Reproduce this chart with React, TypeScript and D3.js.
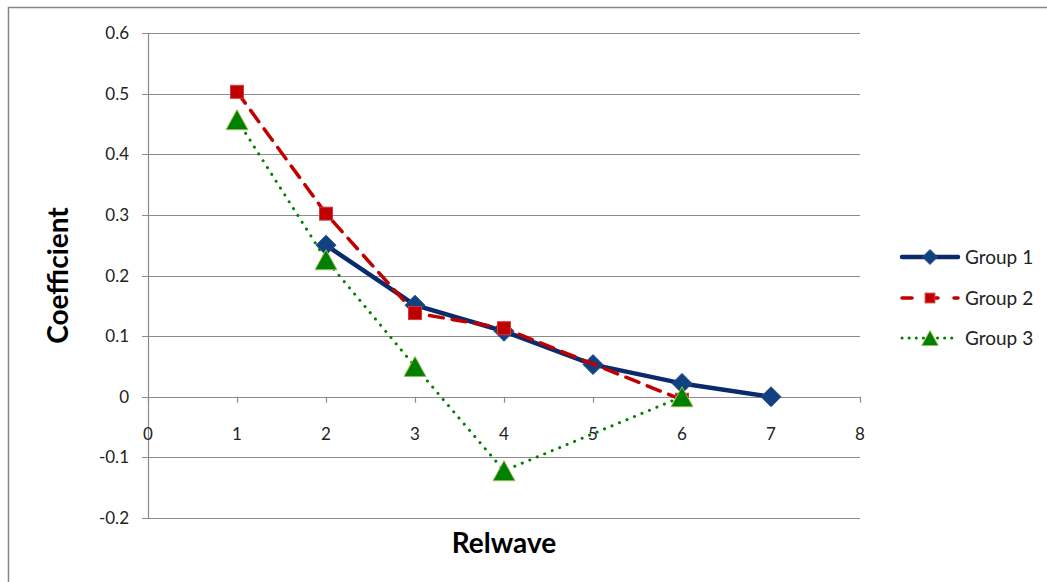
import * as d3 from "d3";
import { useEffect, useRef } from "react";

const xTicks = [0, 1, 2, 3, 4, 5, 6, 7, 8];
const yTicks = [-0.2, -0.1, 0, 0.1, 0.2, 0.3, 0.4, 0.5, 0.6];

const group1X = [2, 3, 4, 5, 6, 7];
const group1Y = [0.25, 0.151, 0.108, 0.053, 0.022, 0.0];
const group2X = [1, 2, 3, 4, 6];
const group2Y = [0.503, 0.302, 0.138, 0.113, -0.005];
const group3X = [1, 2, 3, 4, 6];
const group3Y = [0.457, 0.226, 0.05, -0.122, 0.0];

type Pt = { x: number; y: number };
const zip = (xs: number[], ys: number[]): Pt[] => xs.map((x, i) => ({ x, y: ys[i] }));

const series = [
  { name: "Group 1", data: zip(group1X, group1Y), color: "#0b2a6b", fill: "#11427f", width: 4.5, dash: null as string | null, marker: "diamond" },
  { name: "Group 2", data: zip(group2X, group2Y), color: "#c00000", fill: "#c00000", width: 3.5, dash: "14,9", marker: "square" },
  { name: "Group 3", data: zip(group3X, group3Y), color: "#008000", fill: "#008000", width: 3, dash: "0.1,8", marker: "triangle" },
];

const FONT = "Lato, 'Open Sans', sans-serif";

export default function App() {
  const svgRef = useRef<SVGSVGElement | null>(null);

  useEffect(() => {
    const svg = d3.select(svgRef.current);
    const width = 1047;
    const height = 582;
    svg.selectAll("*").remove();
    svg.attr("width", width).attr("height", height);

    svg.append("rect").attr("width", width).attr("height", height).attr("fill", "#fff");
    svg
      .append("rect")
      .attr("x", 8.5)
      .attr("y", 7.5)
      .attr("width", 1200)
      .attr("height", 700)
      .attr("fill", "none")
      .attr("stroke", "#868686")
      .attr("stroke-width", 1.5);

    const x = d3.scaleLinear().domain([0, 8]).range([148, 860]);
    const y = d3.scaleLinear().domain([-0.2, 0.6]).range([518, 33]);

    // gridlines
    svg
      .selectAll(".grid")
      .data(yTicks)
      .enter()
      .append("line")
      .attr("x1", 142)
      .attr("x2", x(8))
      .attr("y1", (d) => Math.round(y(d)) + 0.5)
      .attr("y2", (d) => Math.round(y(d)) + 0.5)
      .attr("stroke", "#8c8c8c")
      .attr("stroke-width", 1.2);

    // y axis line
    svg
      .append("line")
      .attr("x1", x(0) + 0.5)
      .attr("x2", x(0) + 0.5)
      .attr("y1", y(0.6))
      .attr("y2", y(-0.2))
      .attr("stroke", "#8c8c8c")
      .attr("stroke-width", 1.2);

    // x ticks on zero line
    svg
      .selectAll(".xtick")
      .data(xTicks)
      .enter()
      .append("line")
      .attr("x1", (d) => Math.round(x(d)) + 0.5)
      .attr("x2", (d) => Math.round(x(d)) + 0.5)
      .attr("y1", y(0))
      .attr("y2", y(0) + 6)
      .attr("stroke", "#8c8c8c")
      .attr("stroke-width", 1.2);

    svg
      .selectAll(".ylabel")
      .data(yTicks)
      .enter()
      .append("text")
      .attr("x", 129)
      .attr("y", (d) => y(d) + 6)
      .attr("text-anchor", "end")
      .attr("font-family", FONT)
      .attr("font-size", "17px")
      .attr("fill", "#222")
      .text((d) => (d === 0 ? "0" : d.toFixed(1)));

    svg
      .selectAll(".xlabel")
      .data(xTicks)
      .enter()
      .append("text")
      .attr("x", (d) => x(d))
      .attr("y", y(0) + 43)
      .attr("text-anchor", "middle")
      .attr("font-family", FONT)
      .attr("font-size", "17px")
      .attr("fill", "#222")
      .text((d) => d);

    // axis titles
    svg
      .append("text")
      .attr("transform", `translate(68,${y(0.2)}) rotate(-90)`)
      .attr("text-anchor", "middle")
      .attr("font-family", FONT)
      .attr("font-size", "28px")
      .attr("font-weight", "bold")
      .attr("fill", "#000")
      .text("Coefficient");

    svg
      .append("text")
      .attr("x", x(4))
      .attr("y", 553)
      .attr("text-anchor", "middle")
      .attr("font-family", FONT)
      .attr("font-size", "28px")
      .attr("font-weight", "bold")
      .attr("fill", "#000")
      .text("Relwave");

    const line = d3
      .line<Pt>()
      .x((d) => x(d.x))
      .y((d) => y(d.y));

    const drawMarker = (g: d3.Selection<SVGGElement, unknown, null, undefined>, kind: string, cx: number, cy: number, fill: string, scale: number) => {
      if (kind === "diamond") {
        const r = 10 * scale;
        g.append("path")
          .attr("d", `M${cx},${cy - r}L${cx + r},${cy}L${cx},${cy + r}L${cx - r},${cy}Z`)
          .attr("fill", fill)
          .attr("stroke", "#2b4f8a")
          .attr("stroke-width", 1);
      } else if (kind === "square") {
        const s = 13 * scale;
        g.append("rect")
          .attr("x", cx - s / 2)
          .attr("y", cy - s / 2)
          .attr("width", s)
          .attr("height", s)
          .attr("fill", fill)
          .attr("stroke", "#d23a3a")
          .attr("stroke-width", 1);
      } else {
        const h = 20 * scale;
        const w = 22 * scale;
        g.append("path")
          .attr("d", `M${cx},${cy - h / 2}L${cx + w / 2},${cy + h / 2}L${cx - w / 2},${cy + h / 2}Z`)
          .attr("fill", fill)
          .attr("stroke", "#9bbb59")
          .attr("stroke-width", 1);
      }
    };

    series.forEach((s) => {
      const path = svg
        .append("path")
        .datum(s.data)
        .attr("fill", "none")
        .attr("stroke", s.color)
        .attr("stroke-width", s.width)
        .attr("stroke-linecap", "round")
        .attr("stroke-linejoin", "round")
        .attr("d", line);
      if (s.dash) path.attr("stroke-dasharray", s.dash);
      const g = svg.append("g");
      s.data.forEach((d) => drawMarker(g, s.marker, x(d.x), y(d.y), s.fill, 1));
    });

    // legend
    const legendY = [257, 298, 338];
    series.forEach((s, i) => {
      const ly = legendY[i];
      const l = svg
        .append("line")
        .attr("x1", 902)
        .attr("x2", 958)
        .attr("y1", ly)
        .attr("y2", ly)
        .attr("stroke", s.color)
        .attr("stroke-width", s.width)
        .attr("stroke-linecap", "round");
      if (i === 1) l.attr("stroke-dasharray", "10,16");
      if (i === 2) l.attr("stroke-dasharray", "0.1,7");
      const g = svg.append("g");
      drawMarker(g, s.marker, 930, ly, s.fill, 0.75);
      svg
        .append("text")
        .attr("x", 965)
        .attr("y", ly + 7)
        .attr("font-family", FONT)
        .attr("font-size", "19px")
        .attr("fill", "#222")
        .text(s.name);
    });
  }, []);

  return <svg ref={svgRef} style={{ position: "absolute", left: 0, top: 0 }}></svg>;
}
